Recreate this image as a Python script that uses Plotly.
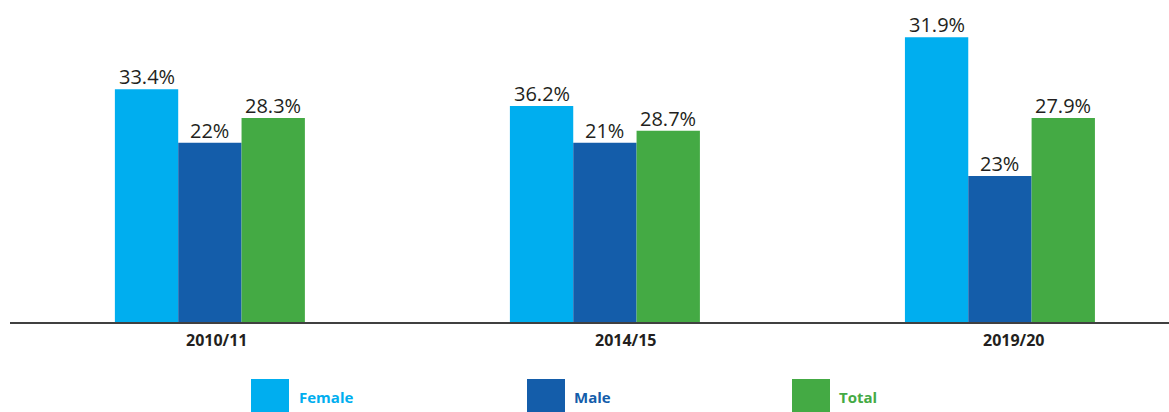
import plotly.graph_objects as go

# ---- data ----
categories = ["2010/11", "2014/15", "2019/20"]
series_names = ["Female", "Male", "Total"]
# bar heights as drawn in the reference (arbitrary display units)
female_heights = [29.1, 27.0, 35.6]
male_heights = [22.4, 22.4, 18.25]
total_heights = [25.5, 23.9, 25.5]
# data-label text as printed in the reference
female_labels = ["33.4%", "36.2%", "31.9%"]
male_labels = ["22%", "21%", "23%"]
total_labels = ["28.3%", "28.7%", "27.9%"]

colors = ["#00AEEF", "#145DAA", "#44AA44"]
heights = [female_heights, male_heights, total_heights]
labels = [female_labels, male_labels, total_labels]

fig = go.Figure()
for name, h, col in zip(series_names, heights, colors):
    fig.add_trace(go.Bar(
        name=name, x=categories, y=h,
        marker=dict(color=col, line=dict(width=0)),
        cliponaxis=False, showlegend=False,
    ))

W, H = 1169, 412
ml, mr, mt, mb = 10, 0, 10, 90
pw, ph = W - ml - mr, H - mt - mb
BAR_PX = 63  # pixel width of one bar within a group

def px(xp):
    return (xp - ml) / pw

def py(yp):
    return (H - mb - yp) / ph

# data labels placed just above each bar
for si, (h, lab) in enumerate(zip(heights, labels)):
    for cat, v, t in zip(categories, h, lab):
        fig.add_annotation(xref="x", yref="y", x=cat, y=v,
                           xshift=(si - 1) * BAR_PX, yshift=-3,
                           xanchor="center", yanchor="bottom", showarrow=False,
                           text=t,
                           font=dict(family="Open Sans", size=20, color="#231F20"))

# category labels (slightly offset to the right, as in the reference)
label_shifts = [7, 21, 14]
for cat, sh in zip(categories, label_shifts):
    fig.add_annotation(xref="x", yref="paper", x=cat, y=py(340), xshift=sh,
                       xanchor="center", yanchor="middle", showarrow=False,
                       text=f"<b>{cat}</b>",
                       font=dict(family="Open Sans", size=16, color="#231F20"))

# custom legend (large squares, coloured bold text)
legend_pos = [(251, 297), (527, 572), (792, 837)]
for (sx, tx), name, col in zip(legend_pos, series_names, colors):
    fig.add_shape(type="rect", xref="paper", yref="paper",
                  x0=px(sx), x1=px(sx + 38), y0=py(379), y1=py(417),
                  fillcolor=col, line=dict(width=0))
    fig.add_annotation(xref="paper", yref="paper", x=px(tx), y=py(397),
                       xanchor="left", yanchor="middle", showarrow=False,
                       text=f"<b>{name}</b>",
                       font=dict(family="Open Sans", size=15, color=col))

fig.update_layout(
    width=W, height=H,
    margin=dict(l=ml, r=mr, t=mt, b=mb),
    paper_bgcolor="white", plot_bgcolor="white",
    barmode="group", bargap=0.519, bargroupgap=0,
    xaxis=dict(type="category", range=[-0.506, 2.428],
               showline=True, linecolor="#404040", linewidth=2,
               showgrid=False, zeroline=False, ticks="",
               showticklabels=False),
    yaxis=dict(range=[0, 39], visible=False, showgrid=False, zeroline=False),
)

fig.write_html(
    "out.html",
    config={"displayModeBar": False},
    post_script="document.body.style.margin='0';document.body.style.padding='0';",
)
